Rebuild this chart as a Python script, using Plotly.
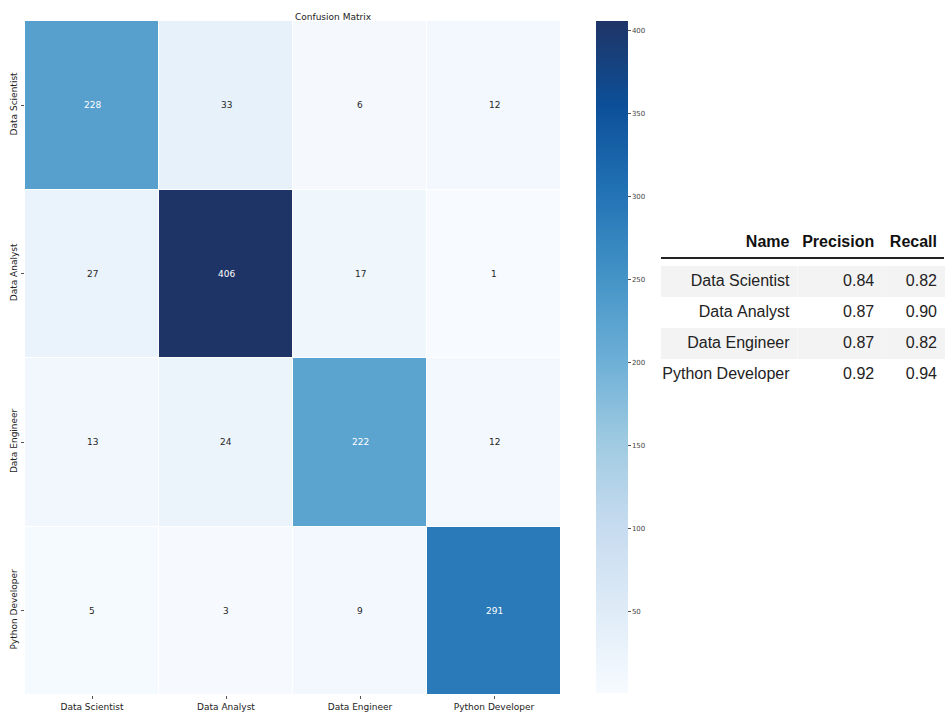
import plotly.graph_objects as go

W, H = 947, 713

# Confusion matrix: rows = true class, columns = predicted class
classes = ["Data Scientist", "Data Analyst", "Data Engineer", "Python Developer"]
counts = [
    [228, 33, 6, 12],
    [27, 406, 17, 1],
    [13, 24, 222, 12],
    [5, 3, 9, 291],
]

# Per-class metrics shown in the side table
metric_names = ["Data Scientist", "Data Analyst", "Data Engineer", "Python Developer"]
precision = [0.84, 0.87, 0.87, 0.92]
recall = [0.82, 0.90, 0.82, 0.94]

colorbar_ticks = [50, 100, 150, 200, 250, 300, 350, 400]

# Sequential blues, light to dark
blues = ["#f7fbff", "#deebf7", "#c6dbef", "#9ecae1", "#6baed6",
         "#4292c6", "#2171b5", "#0c4f98", "#1f3466"]
colorscale = [[k / (len(blues) - 1), c] for k, c in enumerate(blues)]

zmin = min(min(r) for r in counts)
zmax = max(max(r) for r in counts)


def px_x(x):
    return x / W


def px_y(y):
    return 1 - y / H


fig = go.Figure()

fig.add_trace(go.Heatmap(
    z=counts,
    x=classes,
    y=classes,
    zmin=zmin,
    zmax=zmax,
    colorscale=colorscale,
    xgap=1,
    ygap=1,
    xaxis="x",
    yaxis="y",
    hoverinfo="z",
    colorbar=dict(
        x=px_x(596),
        xanchor="left",
        y=px_y(693),
        yanchor="bottom",
        len=(693 - 21) / H,
        lenmode="fraction",
        thickness=32,
        thicknessmode="pixels",
        outlinewidth=0,
        tickvals=colorbar_ticks,
        ticks="outside",
        ticklen=3,
        tickwidth=1,
        tickcolor="#555",
        tickfont=dict(family="DejaVu Sans", size=7, color="#444"),
        xpad=0,
        ypad=0,
    ),
))

# Cell labels: light text on dark cells, dark text on light cells
annotations = []
for i, row in enumerate(counts):
    for j, v in enumerate(row):
        frac = (v - zmin) / (zmax - zmin)
        annotations.append(dict(
            x=classes[j], y=classes[i], xref="x", yref="y",
            text=str(v), showarrow=False,
            font=dict(family="DejaVu Sans", size=9,
                      color="white" if frac > 0.45 else "#262626"),
        ))

annotations.append(dict(
    x=(px_x(25) + px_x(561)) / 2, y=px_y(10), xref="paper", yref="paper",
    text="Confusion Matrix", showarrow=False,
    font=dict(family="DejaVu Sans", size=9, color="#222"),
))

# Metrics table (non-breaking spaces keep each name on one line)
name_cells = [n.replace(" ", "\u00a0") for n in metric_names]
row_fill = ["#f3f3f3" if k % 2 == 0 else "white" for k in range(len(metric_names))]
fig.add_trace(go.Table(
    domain=dict(x=[px_x(661), px_x(946)], y=[px_y(400), px_y(225)]),
    columnwidth=[137, 85, 63],
    header=dict(
        values=["<b>Name</b>", "<b>Precision</b>", "<b>Recall</b>"],
        align="right",
        height=41,
        fill=dict(color="white"),
        line=dict(color="white", width=0),
        font=dict(family="Liberation Sans", size=16, color="#111"),
    ),
    cells=dict(
        values=[name_cells,
                [f"{p:.2f}" for p in precision],
                [f"{r:.2f}" for r in recall]],
        align="right",
        height=31,
        fill=dict(color=[row_fill, row_fill, row_fill]),
        line=dict(color="white", width=0),
        font=dict(family="Liberation Sans", size=16, color="#222"),
    ),
))

fig.update_layout(
    width=W,
    height=H,
    margin=dict(l=0, r=0, t=0, b=0),
    paper_bgcolor="white",
    plot_bgcolor="white",
    showlegend=False,
    xaxis=dict(
        domain=[px_x(25), px_x(561)],
        anchor="y",
        showgrid=False, zeroline=False, showline=False,
        ticks="outside", ticklen=3, tickcolor="#555",
        tickfont=dict(family="DejaVu Sans", size=9, color="#222"),
    ),
    yaxis=dict(
        domain=[px_y(695), px_y(21)],
        anchor="x",
        autorange="reversed",
        showgrid=False, zeroline=False, showline=False,
        ticks="outside", ticklen=3, tickcolor="#555",
        tickangle=-90,
        tickfont=dict(family="DejaVu Sans", size=9, color="#222"),
    ),
    annotations=annotations,
    shapes=[dict(
        type="line", xref="paper", yref="paper",
        x0=px_x(661), x1=px_x(944), y0=px_y(258), y1=px_y(258),
        line=dict(color="#222", width=2),
    )],
)

fig.write_html("out.html")
